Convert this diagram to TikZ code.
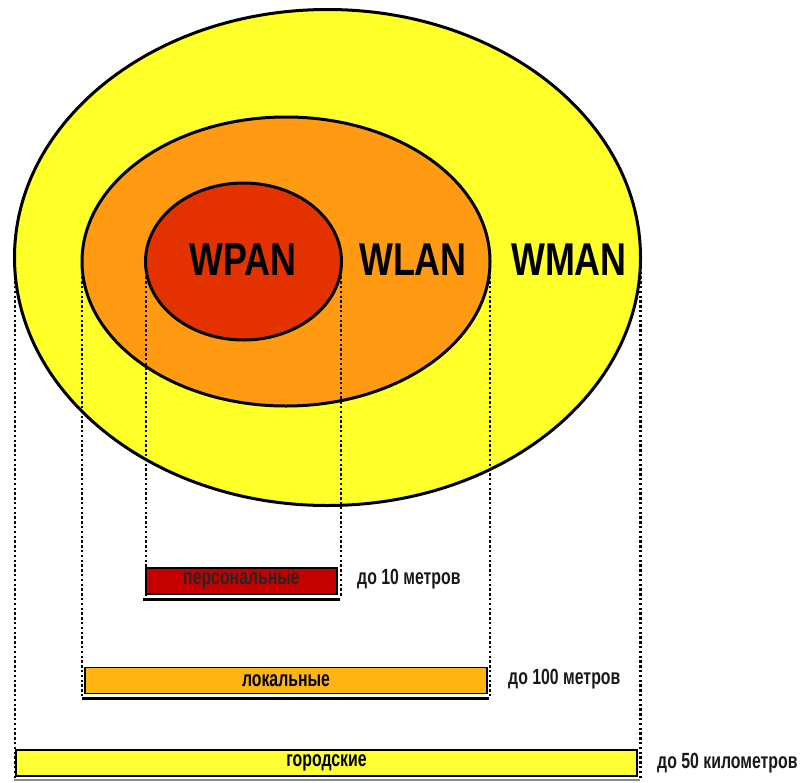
\documentclass[tikz,border=0pt]{standalone}
\usepackage{fontspec}
\setmainfont{Liberation Sans}[FakeStretch=0.78]
\newfontfamily\smallnarrow{Liberation Sans}[FakeStretch=0.72]
\definecolor{manyel}{HTML}{FFFF2A}
\definecolor{lanorg}{HTML}{FF9A12}
\definecolor{panred}{HTML}{E33200}
\definecolor{barred}{HTML}{C50000}
\definecolor{barorg}{HTML}{FFB414}
\definecolor{baryel}{HTML}{FFFF33}
\tikzset{
  zone/.style={draw=black, line width=3pt},
  zonelabel/.style={font=\bfseries\fontsize{46}{50}\selectfont, inner sep=0pt},
  guide/.style={draw=black, line width=2.6pt, dash pattern=on 2.4pt off 2.4pt},
  rangebar/.style={draw=black, line width=1.8pt, minimum height=26pt, inner sep=0pt,
    font=\smallnarrow\bfseries\fontsize{22}{24}\selectfont},
  barshadow/.style={draw=black, line width=3pt},
  rangetext/.style={font=\smallnarrow\bfseries\fontsize{22}{24}\selectfont, anchor=west, inner sep=0pt, text=black!90},
}
\begin{document}
\begin{tikzpicture}[x=1pt, y=-1pt]
\useasboundingbox (0,0) rectangle (803,782);

% nested coverage zones
\fill[manyel] (327.5,257.5) ellipse [x radius=313, y radius=248];
\draw[zone] (327.5,257.5) ellipse [x radius=313, y radius=248];
\fill[lanorg] (286,261.5) ellipse [x radius=204, y radius=144.5];
\draw[zone] (286,261.5) ellipse [x radius=204, y radius=144.5];
\fill[panred] (243.5,261.5) ellipse [x radius=98, y radius=78.5];
\draw[zone] (243.5,261.5) ellipse [x radius=98, y radius=78.5];

\node[zonelabel] (wpan) at (243,260) {WPAN};
\node[zonelabel] (wlan) at (413,260) {WLAN};
\node[zonelabel] (wman) at (569,260) {WMAN};

% extent markers
\coordinate (pa1) at (145.5,262);  \coordinate (pa2) at (145.5,598);
\coordinate (pb1) at (341,262);    \coordinate (pb2) at (341,598);
\coordinate (la1) at (82,262);     \coordinate (la2) at (82,697);
\coordinate (lb1) at (490,262);    \coordinate (lb2) at (490,697);
\coordinate (ma1) at (15,262);     \coordinate (ma2) at (15,779);
\coordinate (mb1) at (640.5,262);  \coordinate (mb2) at (640.5,779);
\draw[guide, line width=2pt] (pa1) -- (pa2);
\draw[guide, line width=2pt] (pb1) -- (pb2);
\draw[guide] (la1) -- (la2);
\draw[guide] (lb1) -- (lb2);
\draw[guide] (ma1) -- (ma2);
\draw[guide] (mb1) -- (mb2);

% range bars
\coordinate (sp1) at (143,599);  \coordinate (sp2) at (340,599);
\coordinate (sl1) at (82,698);   \coordinate (sl2) at (489,698);
\coordinate (sm1) at (14,780);   \coordinate (sm2) at (640,780);
\draw[barshadow] (sp1) -- (sp2);
\draw[barshadow] (sl1) -- (sl2);
\draw[barshadow, draw=black!45, line width=1.5pt] (sm1) -- (sm2);

\node[rangebar, fill=barred, minimum width=191pt, text=black!85] (pers) at (241.5,581) {персональные};
\node[rangebar, fill=barorg, minimum width=402pt] (loc) at (286,680.5) {локальные};
\node[rangebar, fill=baryel, minimum width=621pt] (city) at (326.5,763) {городские};

\node[rangetext] (r10) at (357,579) {до 10 метров};
\node[rangetext] (r100) at (508,679) {до 100 метров};
\node[rangetext] (r50) at (657,763) {до 50 километров};
\end{tikzpicture}
\end{document}
